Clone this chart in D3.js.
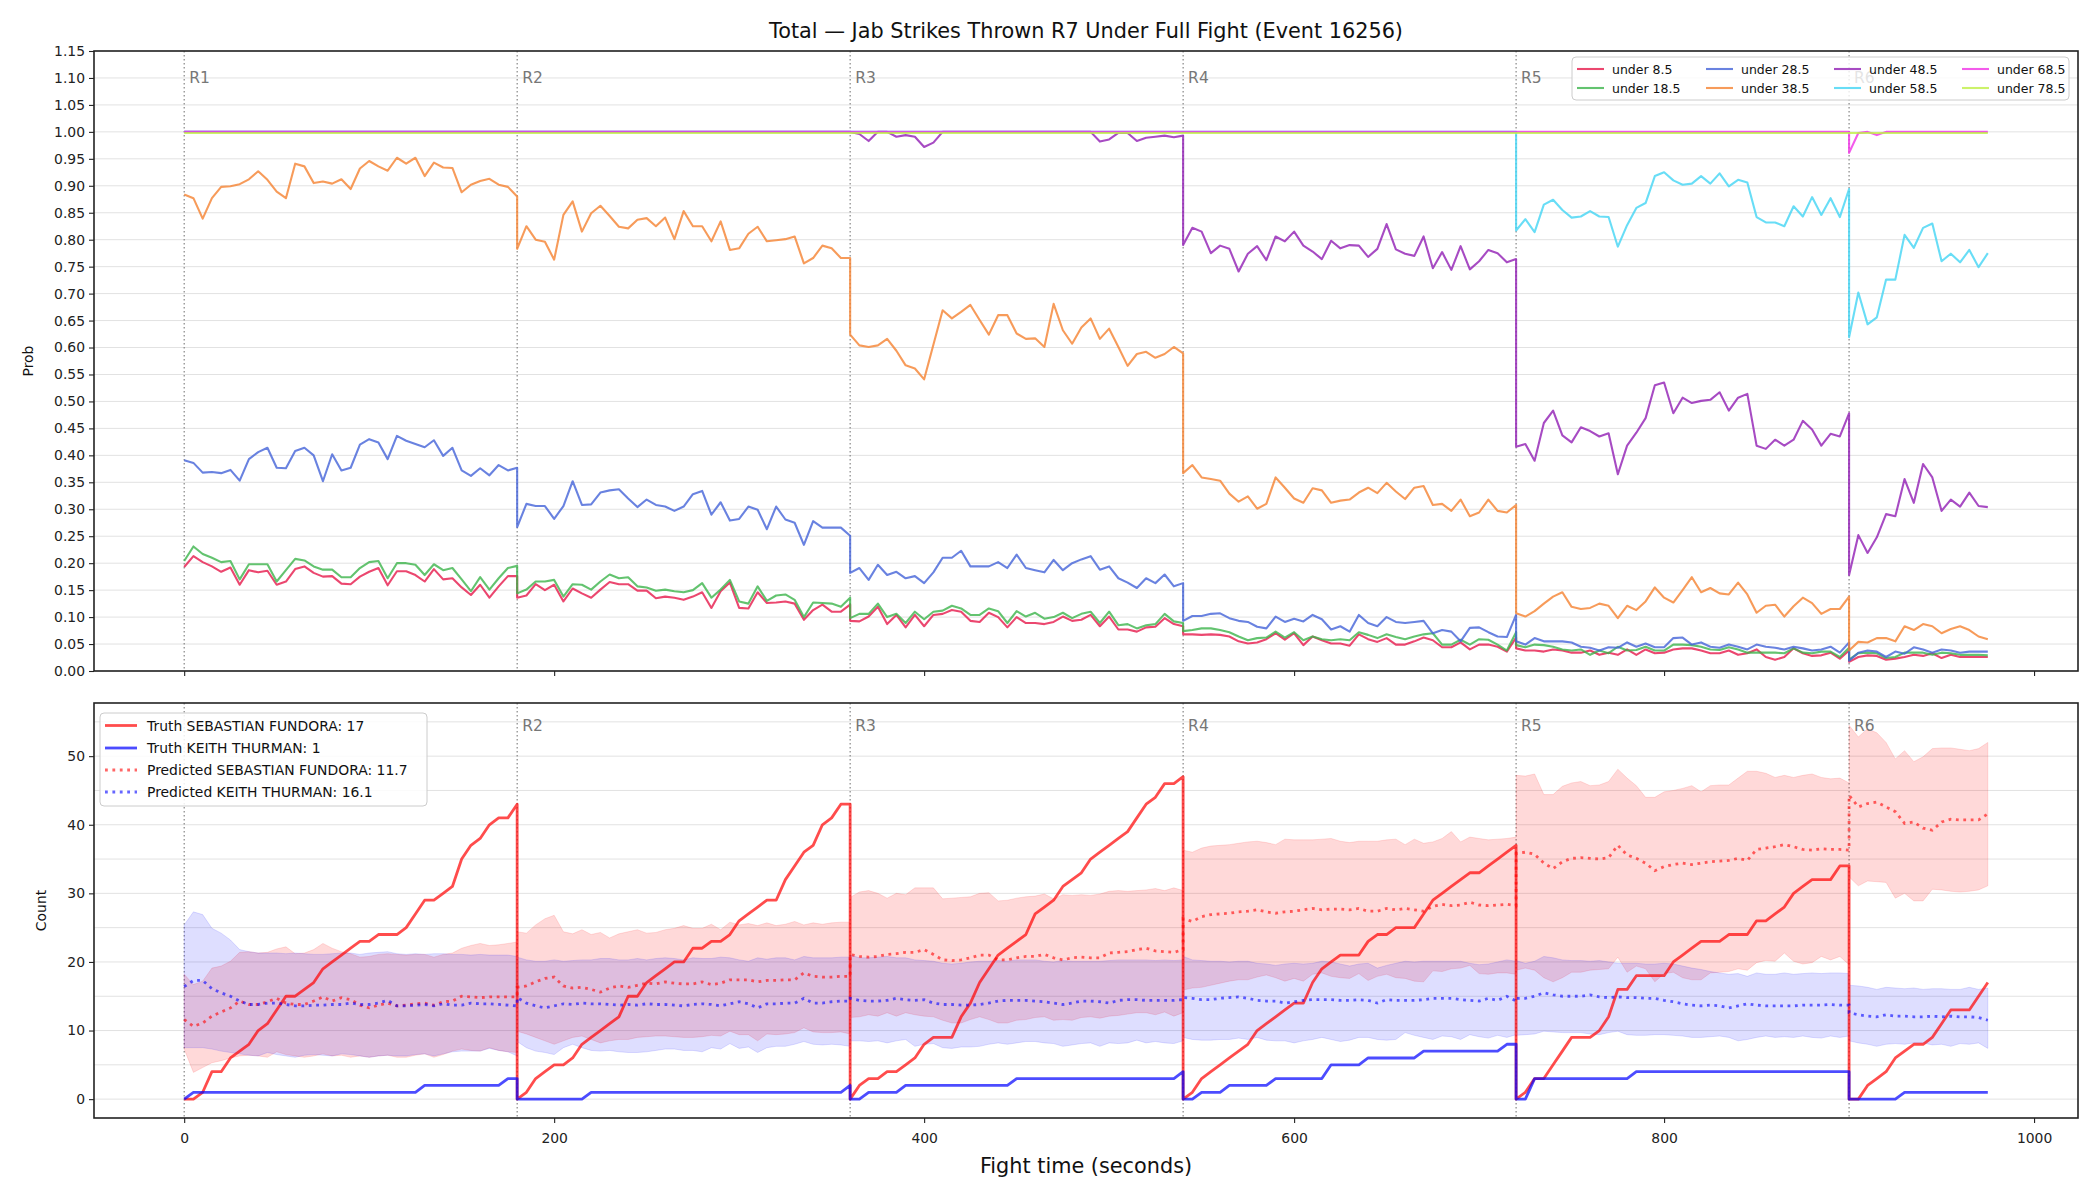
<!DOCTYPE html>
<html>
<head>
<meta charset="utf-8">
<script src="https://cdn.jsdelivr.net/npm/d3@7"></script>
<style>
  body { margin: 0; background: #fff; }
  text { font-family: "DejaVu Sans", sans-serif; }
</style>
</head>
<body>
<div class="svgContainer"></div>
<script>
// rounds and sampling
let roundStarts = [0, 180, 360, 540, 720, 900];
let roundEnds = [180, 360, 540, 720, 900, 975];
let roundLabels = ["R1", "R2", "R3", "R4", "R5", "R6"];
let sampleStep = 5;

let xTicks = [0, 200, 400, 600, 800, 1000];
let probTicks = [0, 0.05, 0.1, 0.15, 0.2, 0.25, 0.3, 0.35, 0.4, 0.45, 0.5, 0.55, 0.6, 0.65, 0.7, 0.75, 0.8, 0.85, 0.9, 0.95, 1, 1.05, 1.1, 1.15];
let countTicks = [0, 10, 20, 30, 40, 50];
let countGrid = [0, 5, 10, 15, 20, 25, 30, 35, 40, 45, 50, 55];

let seriesNames = ["under 8.5", "under 18.5", "under 28.5", "under 38.5", "under 48.5", "under 58.5", "under 68.5", "under 78.5"];

// probability series, one row per round (R1..R5: 0..180 step 5, R6: 0..75)
let under85 = [
  .193,.213,.202,.194,.184,.192,.160,.187,.183,.186,.160,.166,.189,.194,.182,.175,.176,.162,.161,.175,.184,.191,.159,.185,.185,.178,.166,.189,.170,.172,.155,.141,.160,.136,.157,.176,.176,
  .136,.140,.161,.150,.160,.129,.153,.144,.136,.151,.165,.161,.161,.149,.149,.135,.138,.136,.132,.138,.146,.117,.148,.164,.117,.116,.146,.126,.127,.129,.125,.095,.113,.123,.110,.110,.123,
  .093,.092,.101,.119,.087,.104,.081,.104,.083,.104,.106,.113,.110,.093,.091,.108,.100,.081,.100,.089,.089,.087,.091,.101,.093,.095,.104,.083,.101,.077,.077,.073,.081,.082,.098,.087,.083,
  .068,.068,.067,.068,.067,.064,.055,.051,.053,.059,.070,.058,.070,.048,.064,.057,.051,.051,.047,.068,.059,.054,.061,.049,.049,.055,.062,.057,.044,.044,.053,.040,.049,.049,.045,.036,.062,
  .042,.038,.038,.036,.040,.038,.034,.034,.038,.030,.034,.030,.040,.030,.040,.033,.034,.040,.042,.042,.038,.033,.033,.038,.030,.033,.040,.026,.021,.026,.042,.033,.028,.029,.034,.023,.038,
  .017,.026,.029,.028,.021,.023,.026,.030,.028,.033,.024,.030,.026,.026,.026,.026
];
let under185 = [
  .204,.231,.217,.210,.202,.204,.170,.198,.198,.198,.166,.187,.208,.205,.194,.188,.188,.174,.174,.191,.202,.204,.172,.200,.200,.197,.178,.198,.187,.191,.170,.148,.174,.151,.172,.191,.195,
  .144,.151,.166,.166,.169,.138,.161,.160,.151,.166,.179,.172,.174,.157,.155,.149,.151,.148,.146,.150,.163,.136,.151,.169,.129,.125,.157,.130,.140,.142,.132,.100,.127,.126,.125,.119,.136,
  .098,.106,.106,.125,.100,.106,.089,.110,.096,.110,.112,.121,.116,.104,.104,.116,.111,.089,.111,.101,.108,.097,.100,.108,.098,.106,.110,.089,.110,.085,.087,.079,.085,.087,.106,.092,.089,
  .074,.076,.079,.079,.076,.072,.064,.057,.061,.062,.073,.062,.072,.057,.064,.059,.057,.059,.057,.072,.067,.061,.068,.063,.059,.064,.068,.070,.049,.049,.058,.049,.059,.058,.049,.038,.072,
  .048,.044,.049,.048,.045,.040,.038,.040,.030,.038,.033,.045,.038,.039,.045,.038,.038,.049,.049,.048,.045,.040,.039,.044,.040,.034,.034,.034,.034,.033,.042,.034,.033,.036,.036,.026,.043,
  .021,.033,.034,.033,.024,.026,.034,.034,.034,.030,.034,.033,.030,.030,.030,.029
];
let under285 = [
  .391,.386,.368,.369,.367,.373,.353,.393,.406,.414,.377,.376,.408,.414,.400,.352,.402,.372,.377,.420,.430,.424,.393,.436,.427,.421,.415,.428,.399,.414,.372,.362,.376,.363,.382,.372,.377,
  .267,.310,.306,.306,.282,.306,.352,.308,.309,.331,.335,.337,.320,.304,.318,.308,.305,.297,.305,.328,.334,.290,.313,.279,.282,.305,.299,.263,.305,.281,.275,.234,.278,.266,.266,.266,.251,
  .182,.191,.169,.197,.178,.184,.172,.176,.163,.183,.210,.210,.223,.194,.194,.194,.202,.191,.216,.191,.187,.183,.206,.187,.200,.207,.213,.188,.194,.172,.164,.154,.172,.163,.179,.157,.163,
  .093,.102,.102,.106,.107,.098,.093,.091,.082,.079,.101,.091,.097,.092,.104,.096,.077,.083,.073,.104,.089,.083,.100,.091,.089,.091,.093,.070,.076,.073,.055,.080,.081,.072,.064,.063,.104,
  .055,.049,.061,.055,.055,.055,.053,.045,.043,.038,.044,.043,.053,.045,.051,.044,.044,.061,.062,.049,.053,.045,.043,.049,.045,.040,.049,.045,.043,.040,.045,.042,.038,.040,.045,.034,.053,
  .019,.034,.038,.036,.026,.036,.032,.044,.040,.034,.040,.038,.034,.036,.036,.036
];
let under385 = [
  .884,.877,.839,.877,.898,.899,.903,.912,.927,.911,.889,.877,.941,.936,.905,.908,.904,.912,.894,.932,.946,.936,.928,.952,.941,.952,.918,.943,.934,.933,.888,.902,.909,.913,.902,.898,.880,
  .783,.825,.800,.796,.763,.846,.871,.815,.849,.863,.844,.824,.821,.837,.840,.825,.841,.801,.853,.825,.825,.797,.834,.781,.784,.811,.824,.797,.799,.801,.806,.756,.766,.789,.784,.766,.766,
  .624,.604,.601,.604,.616,.594,.567,.561,.541,.605,.669,.654,.666,.679,.651,.624,.660,.660,.626,.616,.617,.601,.681,.632,.607,.637,.654,.616,.635,.601,.566,.588,.592,.581,.588,.601,.589,
  .367,.382,.359,.356,.353,.329,.314,.324,.301,.310,.359,.340,.320,.312,.339,.335,.312,.316,.318,.331,.340,.330,.349,.333,.319,.340,.343,.308,.310,.297,.318,.287,.294,.318,.297,.294,.308,
  .107,.101,.111,.125,.138,.146,.119,.115,.117,.125,.121,.098,.121,.113,.129,.155,.136,.127,.150,.174,.146,.154,.144,.142,.164,.142,.108,.121,.123,.101,.120,.136,.126,.106,.115,.115,.138,
  .038,.054,.053,.061,.061,.055,.083,.076,.087,.083,.070,.078,.083,.076,.064,.059
];
let under485 = [
  1,1,1,1,1,1,1,1,1,1,1,1,1,1,1,1,1,1,1,1,1,1,1,1,1,1,1,1,1,1,1,1,1,1,1,1,1,
  1,1,1,1,1,1,1,1,1,1,1,1,1,1,1,1,1,1,1,1,1,1,1,1,1,1,1,1,1,1,1,1,1,1,1,1,1,
  1,.996,.983,1,1,.991,.994,.991,.972,.980,1,1,1,1,1,1,1,1,1,1,1,1,1,1,1,1,1,.982,.986,.998,.998,.983,.989,.991,.993,.990,.993,
  .790,.822,.815,.775,.789,.783,.741,.774,.788,.762,.806,.797,.815,.789,.778,.764,.798,.784,.790,.789,.768,.783,.829,.782,.774,.770,.806,.747,.777,.744,.788,.745,.760,.781,.775,.758,.764,
  .416,.421,.390,.460,.483,.437,.424,.452,.445,.435,.441,.365,.418,.442,.469,.530,.535,.478,.507,.497,.501,.503,.517,.483,.507,.514,.418,.412,.429,.418,.429,.464,.448,.418,.440,.435,.478,
  .178,.252,.219,.248,.291,.287,.356,.312,.384,.359,.297,.318,.305,.331,.306,.304
];
let under585 = [
  1,1,1,1,1,1,1,1,1,1,1,1,1,1,1,1,1,1,1,1,1,1,1,1,1,1,1,1,1,1,1,1,1,1,1,1,1,
  1,1,1,1,1,1,1,1,1,1,1,1,1,1,1,1,1,1,1,1,1,1,1,1,1,1,1,1,1,1,1,1,1,1,1,1,1,
  1,1,1,1,1,1,1,1,1,1,1,1,1,1,1,1,1,1,1,1,1,1,1,1,1,1,1,1,1,1,1,1,1,1,1,1,1,
  1,1,1,1,1,1,1,1,1,1,1,1,1,1,1,1,1,1,1,1,1,1,1,1,1,1,1,1,1,1,1,1,1,1,1,1,1,
  .817,.838,.814,.865,.874,.855,.841,.843,.853,.843,.842,.787,.827,.859,.868,.918,.925,.910,.902,.904,.918,.904,.923,.899,.911,.906,.842,.832,.832,.825,.862,.843,.879,.846,.877,.842,.894,
  .619,.702,.643,.656,.726,.726,.809,.785,.822,.830,.760,.774,.758,.781,.749,.775
];
let under685 = [
  1,1,1,1,1,1,1,1,1,1,1,1,1,1,1,1,1,1,1,1,1,1,1,1,1,1,1,1,1,1,1,1,1,1,1,1,1,
  1,1,1,1,1,1,1,1,1,1,1,1,1,1,1,1,1,1,1,1,1,1,1,1,1,1,1,1,1,1,1,1,1,1,1,1,1,
  1,1,1,1,1,1,1,1,1,1,1,1,1,1,1,1,1,1,1,1,1,1,1,1,1,1,1,1,1,1,1,1,1,1,1,1,1,
  1,1,1,1,1,1,1,1,1,1,1,1,1,1,1,1,1,1,1,1,1,1,1,1,1,1,1,1,1,1,1,1,1,1,1,1,1,
  1,1,1,1,1,1,1,1,1,1,1,1,1,1,1,1,1,1,1,1,1,1,1,1,1,1,1,1,1,1,1,1,1,1,1,1,1,
  .961,.998,1,.994,1,1,1,1,1,1,1,1,1,1,1,1
];
let under785 = [
  .998,.998,.998,.998,.998,.998,.998,.998,.998,.998,.998,.998,.998,.998,.998,.998,.998,.998,.998,.998,.998,.998,.998,.998,.998,.998,.998,.998,.998,.998,.998,.998,.998,.998,.998,.998,.998,
  .998,.998,.998,.998,.998,.998,.998,.998,.998,.998,.998,.998,.998,.998,.998,.998,.998,.998,.998,.998,.998,.998,.998,.998,.998,.998,.998,.998,.998,.998,.998,.998,.998,.998,.998,.998,.998,
  .998,.998,.998,.998,.998,.998,.998,.998,.998,.998,.998,.998,.998,.998,.998,.998,.998,.998,.998,.998,.998,.998,.998,.998,.998,.998,.998,.998,.998,.998,.998,.998,.998,.998,.998,.998,.998,
  .998,.998,.998,.998,.998,.998,.998,.998,.998,.998,.998,.998,.998,.998,.998,.998,.998,.998,.998,.998,.998,.998,.998,.998,.998,.998,.998,.998,.998,.998,.998,.998,.998,.998,.998,.998,.998,
  .998,.998,.998,.998,.998,.998,.998,.998,.998,.998,.998,.998,.998,.998,.998,.998,.998,.998,.998,.998,.998,.998,.998,.998,.998,.998,.998,.998,.998,.998,.998,.998,.998,.998,.998,.998,.998,
  .998,.998,.998,.998,.998,.998,.998,.998,.998,.998,.998,.998,.998,.998,.998,.998
];

// counts: truth (cumulative per round), predicted mean and band
let truthFundora = [
  0,0,1,4,4,6,7,8,10,11,13,15,15,16,17,19,20,21,22,23,23,24,24,24,25,27,29,29,30,31,35,37,38,40,41,41,43,
  0,1,3,4,5,5,6,8,9,10,11,12,15,15,17,18,19,20,20,22,22,23,23,24,26,27,28,29,29,32,34,36,37,40,41,43,43,
  0,2,3,3,4,4,5,6,8,9,9,9,12,14,17,19,21,22,23,24,27,28,29,31,32,33,35,36,37,38,39,41,43,44,46,46,47,
  0,1,3,4,5,6,7,8,10,11,12,13,14,14,17,19,20,21,21,21,23,24,24,25,25,25,27,29,30,31,32,33,33,34,35,36,37,
  0,1,3,3,5,7,9,9,9,10,12,16,16,18,18,18,18,20,21,22,23,23,23,24,24,24,26,26,27,28,30,31,32,32,32,34,34,
  0,0,2,3,4,6,7,8,8,9,11,13,13,13,15,17
];
let truthThurman = [
  0,1,1,1,1,1,1,1,1,1,1,1,1,1,1,1,1,1,1,1,1,1,1,1,1,1,2,2,2,2,2,2,2,2,2,3,3,
  0,0,0,0,0,0,0,0,1,1,1,1,1,1,1,1,1,1,1,1,1,1,1,1,1,1,1,1,1,1,1,1,1,1,1,1,2,
  0,0,1,1,1,1,2,2,2,2,2,2,2,2,2,2,2,2,3,3,3,3,3,3,3,3,3,3,3,3,3,3,3,3,3,3,4,
  0,0,1,1,1,2,2,2,2,2,3,3,3,3,3,3,5,5,5,5,6,6,6,6,6,6,7,7,7,7,7,7,7,7,7,8,8,
  0,0,3,3,3,3,3,3,3,3,3,3,3,4,4,4,4,4,4,4,4,4,4,4,4,4,4,4,4,4,4,4,4,4,4,4,4,
  0,0,0,0,0,0,1,1,1,1,1,1,1,1,1,1
];
let predFundora = [
  11.6,10.6,11.1,12.1,12.7,13.3,14.3,13.8,13.8,14.2,14.7,14.0,13.8,13.8,14.3,14.9,14.3,14.8,14.5,13.7,13.3,13.7,14.0,13.6,13.7,13.9,14.0,13.7,14.2,14.3,15.0,14.9,14.8,14.9,14.9,14.9,14.9,
  16.3,16.5,17.1,17.6,17.8,16.5,16.2,16.3,16.0,15.6,16.2,16.5,16.3,16.6,16.9,16.8,17.1,16.9,16.8,16.8,17.1,16.7,16.9,17.4,17.4,17.4,17.1,17.3,17.3,17.4,17.4,18.4,17.9,17.8,17.8,17.9,17.9,
  21.1,20.8,20.7,20.8,21.1,21.2,21.4,21.4,21.8,21.1,20.3,20.2,20.3,20.6,21.0,21.0,20.3,20.3,20.6,20.8,20.8,21.1,20.6,20.3,20.6,20.7,20.6,20.6,21.3,21.4,21.5,21.8,22.0,21.6,21.5,21.4,21.8,
  26.3,25.9,26.6,26.9,27.0,27.1,27.3,27.4,27.6,27.3,27.1,27.3,27.4,27.6,27.8,27.6,27.7,27.7,27.6,27.8,27.4,27.4,27.8,27.6,27.8,27.6,27.4,28.1,28.4,28.2,28.3,28.7,28.3,28.2,28.3,28.4,28.2,
  35.8,36.0,35.7,34.4,33.6,34.6,35.1,35.2,35.1,35.0,35.2,37.0,35.6,35.1,34.4,33.3,33.9,34.2,34.4,34.2,34.4,34.6,34.7,34.8,35.1,34.8,36.4,36.6,36.8,37.1,36.8,36.4,36.3,36.5,36.4,36.4,36.3,
  44.3,42.6,43.1,43.3,42.6,41.9,40.2,40.4,39.5,39.2,40.4,40.8,40.7,40.7,40.7,41.6
];
let predThurman = [
  16.4,17.3,17.3,16.1,15.5,15.0,14.3,13.8,13.8,14.0,14.0,13.8,13.6,13.6,13.7,13.7,13.8,13.8,14.0,13.8,13.8,14.0,14.4,13.6,13.6,13.7,13.8,13.6,13.9,13.7,13.7,14.0,13.9,13.9,13.8,13.7,13.6,
  14.8,14.0,13.6,13.3,13.6,13.9,13.8,14.0,13.9,13.9,13.8,13.7,13.8,13.7,13.9,13.8,13.8,13.7,13.6,13.8,13.9,13.8,13.6,13.9,14.2,13.9,13.3,13.9,13.9,14.0,14.0,14.7,14.0,14.0,14.2,14.3,14.3,
  14.7,14.4,14.3,14.3,14.4,14.7,14.5,14.4,14.5,14.0,13.8,13.8,13.7,13.7,13.8,14.0,14.3,14.4,14.4,14.4,14.3,14.2,14.0,13.8,14.0,14.3,14.3,14.2,14.0,14.4,14.5,14.5,14.4,14.4,14.4,14.4,14.5,
  14.8,14.7,14.5,14.5,14.7,14.8,14.9,14.7,14.4,14.3,14.3,14.0,14.2,14.4,14.5,14.5,14.5,14.4,14.4,14.5,14.4,14.0,14.5,14.4,14.4,14.4,14.5,14.7,14.7,14.7,14.5,14.4,14.3,14.7,14.4,15.0,14.3,
  14.7,14.7,15.0,15.5,15.2,15.0,15.0,15.0,15.2,14.9,14.8,14.9,14.8,14.8,14.7,14.7,14.4,14.2,13.9,13.7,13.6,13.7,13.6,13.3,13.6,13.9,13.7,13.6,13.6,13.6,13.6,13.7,13.7,13.7,13.8,13.7,13.7,
  12.6,12.3,12.1,12.0,12.3,12.1,12.1,12.0,12.0,12.1,12.0,12.1,12.0,12.0,11.9,11.5
];
let fundoraHi = [
  18.2,16.7,17.2,19.1,19.4,20.1,21.4,21.5,21.3,21.4,21.9,22.2,21.2,21.3,21.8,22.7,22.0,21.5,21.2,20.7,20.8,21.1,21.2,21.1,21.0,21.1,21.1,20.7,21.1,21.3,22.0,22.4,22.7,22.4,22.5,22.7,22.9,
  24.4,24.2,25.4,26.3,26.8,24.4,24.1,24.7,24.0,24.3,23.5,24.1,24.4,24.7,24.2,24.3,24.7,24.9,25.3,24.9,24.9,25.5,24.7,25.8,25.4,25.6,25.3,25.7,25.3,25.5,25.9,25.4,25.7,25.5,25.7,25.8,25.8,
  29.4,30.2,30.4,30.0,29.3,30.0,29.8,30.8,30.8,30.8,29.2,29.3,29.4,29.5,30.0,30.1,28.9,29.0,29.3,29.5,29.6,29.9,29.2,29.8,29.7,29.8,29.7,29.9,30.3,30.4,30.3,30.4,30.5,30.7,30.4,30.8,30.4,
  36.3,36.0,36.6,36.9,37.0,37.1,37.3,37.5,37.6,37.4,37.1,37.9,37.8,37.8,37.8,37.9,38.0,37.6,37.4,37.6,37.6,37.6,37.8,37.9,37.1,37.9,37.3,37.5,38.0,39.0,37.5,38.2,38.0,37.8,37.9,38.0,38.2,
  47.2,47.1,47.4,44.4,44.4,45.6,46.1,46.3,45.7,45.8,46.3,48.1,46.8,45.7,44.0,44.0,44.8,45.0,45.3,45.7,44.8,45.7,45.8,45.8,46.8,47.8,47.8,47.5,46.9,47.2,46.9,47.2,47.4,46.9,46.7,46.8,46.1,
  54.5,52.8,54.0,53.4,52.0,49.6,50.8,49.2,49.9,51.1,51.2,51.2,51.0,50.8,51.1,52.0
];
let fundoraLo = [
  7.3,3.9,4.6,5.3,5.6,6.0,6.3,6.4,6.3,6.1,6.9,6.5,6.3,6.1,6.3,6.6,6.3,6.4,6.1,6.3,6.1,6.3,6.4,6.1,6.1,6.4,6.6,6.1,6.5,7.0,7.3,7.1,7.0,7.5,7.1,6.9,6.8,
  9.9,9.5,9.0,8.5,8.0,8.5,9.0,9.2,8.7,8.2,8.5,8.7,8.7,9.0,9.1,9.2,9.2,9.1,9.0,9.0,9.1,9.3,9.2,9.9,9.4,9.4,8.5,9.5,9.4,9.5,9.7,10.4,9.8,9.7,9.7,9.8,9.5,
  11.9,12.0,12.3,12.1,12.6,12.1,12.6,12.3,12.1,12.0,11.5,11.1,11.1,11.6,12.0,11.6,11.1,11.1,11.5,11.6,11.9,12.0,11.5,11.6,11.5,11.9,12.0,11.8,12.1,12.2,12.4,12.6,12.6,12.3,12.7,12.1,12.6,
  15.9,16.2,16.3,16.6,16.9,17.2,17.4,17.4,17.8,18.1,17.7,17.2,17.6,17.2,18.2,18.4,17.9,17.7,17.6,18.3,17.3,17.9,18.2,17.7,17.6,17.2,17.1,18.7,18.6,19.0,19.1,19.5,18.3,18.2,18.4,18.4,18.2,
  18.8,19.1,18.8,17.7,17.1,17.7,18.5,18.5,18.8,18.9,19.0,20.7,18.5,19.4,19.0,17.1,18.3,18.5,17.7,17.4,17.4,18.4,18.5,18.6,19.0,18.8,19.9,20.2,20.1,21.3,20.1,19.7,19.9,20.8,20.3,20.8,19.6,
  32.4,31.1,31.8,31.7,31.6,29.3,30.0,28.9,28.9,30.6,30.5,30.3,30.2,30.3,30.5,31.1
];
let thurmanHi = [
  25.4,27.3,26.9,24.9,24.2,23.2,21.8,21.5,21.3,21.3,21.3,21.2,21.3,21.2,21.1,21.1,21.2,21.3,21.3,21.1,21.3,21.4,21.5,21.2,21.1,21.2,21.1,21.2,21.2,21.1,21.1,21.0,21.1,21.0,21.0,21.0,20.8,
  20.7,20.3,20.1,20.1,20.3,20.1,20.2,20.3,20.3,20.5,20.5,20.3,20.3,20.5,20.3,20.5,20.6,20.5,20.3,20.6,20.5,20.5,20.7,20.6,20.3,20.1,20.6,20.4,20.6,20.6,20.3,20.8,20.6,20.6,20.6,20.7,20.7,
  21.0,20.6,20.6,20.7,20.8,20.6,20.6,20.3,20.2,20.1,19.8,19.7,19.8,20.0,20.1,20.1,20.2,20.1,20.3,20.3,20.3,20.1,20.0,20.2,20.1,20.1,20.1,20.1,20.2,20.3,20.3,20.3,20.3,20.2,20.3,20.2,20.3,
  20.8,20.3,20.2,20.1,20.1,20.0,20.1,20.1,19.8,19.7,19.5,19.7,19.8,19.7,19.8,20.1,20.0,19.7,19.4,19.7,19.8,19.1,19.5,19.8,20.1,20.0,20.1,20.1,20.1,20.1,20.1,19.8,19.6,19.7,20.0,20.3,20.1,
  20.2,19.8,20.1,20.8,20.6,20.3,20.2,20.2,20.1,20.2,20.0,19.8,19.8,19.8,19.7,19.7,19.8,19.7,19.4,19.1,18.9,18.6,18.4,18.2,18.3,17.9,18.4,18.2,18.2,18.4,18.2,18.3,18.4,18.3,18.4,18.4,18.3,
  16.6,16.5,16.3,16.0,16.3,16.2,16.1,16.2,16.0,16.1,16.1,16.0,16.0,16.3,16.0,16.2
];
let thurmanLo = [
  7.5,7.5,7.5,7.3,7.0,6.8,6.6,6.4,6.3,6.8,6.5,6.3,6.1,6.4,6.5,6.4,6.3,6.6,6.5,6.3,6.1,6.3,6.4,6.3,6.3,6.5,6.6,6.3,6.6,6.9,7.0,7.0,7.0,7.4,7.1,6.9,6.3,
  8.4,7.5,7.0,6.8,6.5,7.5,8.0,7.5,7.1,7.0,7.1,6.9,6.8,6.8,6.9,7.1,7.3,7.3,7.1,7.1,6.9,7.5,7.3,8.1,7.4,7.6,6.8,7.5,7.7,7.7,8.0,8.4,8.0,7.9,8.0,7.9,7.7,
  8.5,8.5,8.4,8.5,8.2,8.5,8.7,7.7,8.0,8.1,7.5,7.4,7.6,7.6,7.7,8.0,8.2,8.0,8.2,8.4,8.4,8.2,8.1,7.7,7.9,8.1,8.2,7.7,8.2,8.1,8.2,8.6,8.2,8.4,8.2,8.1,8.5,
  9.0,8.7,8.6,8.6,8.7,8.7,8.9,8.7,9.0,8.6,8.5,8.5,8.2,8.5,8.7,9.0,8.7,8.4,8.6,9.0,9.0,8.7,8.6,8.7,9.7,9.3,9.0,8.7,9.2,9.1,8.7,9.4,9.1,8.9,9.3,9.0,9.4,
  9.3,9.4,9.5,9.9,9.8,9.7,9.7,9.7,9.5,9.4,9.7,9.9,9.4,9.3,9.3,9.4,9.4,9.3,9.2,9.0,9.0,9.1,9.2,9.0,8.5,8.7,9.0,9.2,9.0,9.1,9.0,9.2,9.0,8.9,9.2,9.0,9.2,
  8.5,8.2,8.0,7.7,8.0,8.1,8.0,8.2,8.2,7.9,8.0,7.7,8.1,8.0,8.2,7.4
];

let legendTexts = ["Truth SEBASTIAN FUNDORA: 17", "Truth KEITH THURMAN: 1", "Predicted SEBASTIAN FUNDORA: 11.7", "Predicted KEITH THURMAN: 16.1"];

// sample times, each round keeps its own start and end sample
let times = [];
roundStarts.forEach((s, i) => {
  for (let t = s; t <= roundEnds[i]; t += sampleStep) times.push(t);
});

let width = 2100,
  height = 1200,
  left = 94,
  right = 2078,
  topY = [51, 671],
  botY = [703, 1118];

let probSeries = [under85, under185, under285, under385, under485, under585, under685, under785];
let probColors = ["#e6194b", "#3cb44b", "#4363d8", "#f58231", "#911eb4", "#42d4f4", "#f032e6", "#bfef45"];

let svg = d3
  .select(".svgContainer")
  .append("svg")
  .attr("width", width)
  .attr("height", height)
  .style("background", "#fff");

let xScale = d3.scaleLinear().domain([-48.75, 1023.75]).range([left, right]);
let yProb = d3.scaleLinear().domain([0, 1.15]).range([topY[1], topY[0]]);
let yCount = d3.scaleLinear().domain([-2.75, 57.75]).range([botY[1], botY[0]]);

let defs = svg.append("defs");
defs.append("clipPath").attr("id", "clipTop")
  .append("rect").attr("x", left).attr("y", topY[0]).attr("width", right - left).attr("height", topY[1] - topY[0]);
defs.append("clipPath").attr("id", "clipBot")
  .append("rect").attr("x", left).attr("y", botY[0]).attr("width", right - left).attr("height", botY[1] - botY[0]);

// title
svg.append("text")
  .attr("x", (left + right) / 2)
  .attr("y", 31)
  .attr("text-anchor", "middle")
  .attr("dominant-baseline", "central")
  .style("font-size", "20.8px")
  .style("fill", "#111")
  .text("Total \u2014 Jab Strikes Thrown R7 Under Full Fight (Event 16256)");

// grid lines
svg.append("g").selectAll("line").data(probTicks).enter().append("line")
  .attr("x1", left).attr("x2", right)
  .attr("y1", d => yProb(d)).attr("y2", d => yProb(d))
  .style("stroke", "#e2e2e2").style("stroke-width", 1);
svg.append("g").selectAll("line").data(countGrid).enter().append("line")
  .attr("x1", left).attr("x2", right)
  .attr("y1", d => yCount(d)).attr("y2", d => yCount(d))
  .style("stroke", "#e2e2e2").style("stroke-width", 1);

// round separators
[topY, botY].forEach(range => {
  svg.append("g").selectAll("line").data(roundStarts).enter().append("line")
    .attr("x1", d => xScale(d)).attr("x2", d => xScale(d))
    .attr("y1", range[0]).attr("y2", range[1])
    .style("stroke", "#7a7a7a").style("stroke-width", 1.1)
    .style("stroke-dasharray", "1.5,2.5");
});

// top panel: probability lines
let probLine = d3.line()
  .x((d, i) => xScale(times[i]))
  .y(d => yProb(d));

let topLines = svg.append("g").attr("clip-path", "url(#clipTop)");
probSeries.forEach((vals, k) => {
  topLines.append("path")
    .attr("d", probLine(vals))
    .style("fill", "none")
    .style("stroke", probColors[k])
    .style("stroke-width", 2.1)
    .style("stroke-opacity", 0.8)
    .style("stroke-linejoin", "round");
});

// bottom panel: bands, truth, predicted
let bandArea = (lo, hi) => d3.area()
  .x((d, i) => xScale(times[i]))
  .y0((d, i) => yCount(lo[i]))
  .y1((d, i) => yCount(hi[i]))(lo);

let countLine = d3.line()
  .x((d, i) => xScale(times[i]))
  .y(d => yCount(d));

let botMarks = svg.append("g").attr("clip-path", "url(#clipBot)");
botMarks.append("path")
  .attr("d", bandArea(fundoraLo, fundoraHi))
  .style("fill", "rgba(255,0,0,0.15)")
  .style("stroke", "rgba(255,0,0,0.12)")
  .style("stroke-width", 1);
botMarks.append("path")
  .attr("d", bandArea(thurmanLo, thurmanHi))
  .style("fill", "rgba(0,0,255,0.13)")
  .style("stroke", "rgba(0,0,255,0.12)")
  .style("stroke-width", 1);

botMarks.append("path")
  .attr("d", countLine(truthFundora))
  .style("fill", "none").style("stroke", "#ff0000").style("stroke-opacity", 0.7)
  .style("stroke-width", 2.8).style("stroke-linejoin", "round");
botMarks.append("path")
  .attr("d", countLine(truthThurman))
  .style("fill", "none").style("stroke", "#0000ff").style("stroke-opacity", 0.7)
  .style("stroke-width", 2.8).style("stroke-linejoin", "round");
botMarks.append("path")
  .attr("d", countLine(predFundora))
  .style("fill", "none").style("stroke", "#ff0000").style("stroke-opacity", 0.6)
  .style("stroke-width", 2.8).style("stroke-dasharray", "2.8,4.6");
botMarks.append("path")
  .attr("d", countLine(predThurman))
  .style("fill", "none").style("stroke", "#0000ff").style("stroke-opacity", 0.6)
  .style("stroke-width", 2.8).style("stroke-dasharray", "2.8,4.6");

// round labels (bottom R1 sits under the legend, so it is left out there)
svg.append("g").selectAll("text").data(roundStarts).enter().append("text")
  .attr("x", d => xScale(d) + 5)
  .attr("y", yProb(1.1))
  .attr("dominant-baseline", "central")
  .style("font-size", "15.5px").style("fill", "#777")
  .text((d, i) => roundLabels[i]);
svg.append("g").selectAll("text").data(roundStarts.slice(1)).enter().append("text")
  .attr("x", d => xScale(d) + 5)
  .attr("y", yCount(54.4))
  .attr("dominant-baseline", "central")
  .style("font-size", "15.5px").style("fill", "#777")
  .text((d, i) => roundLabels[i + 1]);

// axes
function styleAxis(g) {
  g.select(".domain").remove();
  g.selectAll(".tick line").style("stroke", "#222").style("stroke-width", 1.1);
  g.selectAll(".tick text")
    .style("font-size", "13.9px")
    .style("font-family", "DejaVu Sans")
    .style("fill", "#222");
}

svg.append("g")
  .attr("transform", "translate(" + left + ",0)")
  .call(d3.axisLeft(yProb).tickValues(probTicks).tickFormat(d3.format(".2f")).tickSize(5).tickPadding(4))
  .call(styleAxis);
svg.append("g")
  .attr("transform", "translate(0," + topY[1] + ")")
  .call(d3.axisBottom(xScale).tickValues(xTicks).tickFormat("").tickSize(5))
  .call(styleAxis);
svg.append("g")
  .attr("transform", "translate(" + left + ",0)")
  .call(d3.axisLeft(yCount).tickValues(countTicks).tickFormat(d3.format("d")).tickSize(5).tickPadding(4))
  .call(styleAxis);
svg.append("g")
  .attr("transform", "translate(0," + botY[1] + ")")
  .call(d3.axisBottom(xScale).tickValues(xTicks).tickFormat(d3.format("d")).tickSize(5).tickPadding(10))
  .call(styleAxis);

// frames
[topY, botY].forEach(range => {
  svg.append("rect")
    .attr("x", left).attr("y", range[0])
    .attr("width", right - left).attr("height", range[1] - range[0])
    .style("fill", "none").style("stroke", "#222").style("stroke-width", 1.6);
});

// axis labels
svg.append("text")
  .attr("transform", "translate(28," + (topY[0] + topY[1]) / 2 + ") rotate(-90)")
  .attr("text-anchor", "middle").attr("dominant-baseline", "central")
  .style("font-size", "13.9px").style("fill", "#111")
  .text("Prob");
svg.append("text")
  .attr("transform", "translate(41," + (botY[0] + botY[1]) / 2 + ") rotate(-90)")
  .attr("text-anchor", "middle").attr("dominant-baseline", "central")
  .style("font-size", "13.9px").style("fill", "#111")
  .text("Count");
svg.append("text")
  .attr("x", (left + right) / 2)
  .attr("y", 1166)
  .attr("text-anchor", "middle").attr("dominant-baseline", "central")
  .style("font-size", "20.8px").style("fill", "#111")
  .text("Fight time (seconds)");

// top legend, 4 columns x 2 rows
let topLegend = svg.append("g");
topLegend.append("rect")
  .attr("x", 1572).attr("y", 57).attr("width", 497).attr("height", 43).attr("rx", 4)
  .style("fill", "rgba(255,255,255,0.8)").style("stroke", "#cccccc").style("stroke-width", 1);
let colX = [1577, 1706, 1834, 1962];
let rowY = [69, 88];
seriesNames.forEach((name, i) => {
  let cx = colX[Math.floor(i / 2)], cy = rowY[i % 2];
  topLegend.append("line")
    .attr("x1", cx).attr("x2", cx + 27).attr("y1", cy).attr("y2", cy)
    .style("stroke", probColors[i]).style("stroke-opacity", 0.8).style("stroke-width", 2.1);
  topLegend.append("text")
    .attr("x", cx + 35).attr("y", cy)
    .attr("dominant-baseline", "central")
    .style("font-size", "12.5px").style("fill", "#111")
    .text(name);
});

// bottom legend
let botLegend = svg.append("g");
botLegend.append("rect")
  .attr("x", 100).attr("y", 713).attr("width", 327).attr("height", 93).attr("rx", 4)
  .style("fill", "rgba(255,255,255,0.85)").style("stroke", "#cccccc").style("stroke-width", 1);
let legendStyles = [
  { color: "#ff0000", op: 0.7, dash: null },
  { color: "#0000ff", op: 0.7, dash: null },
  { color: "#ff0000", op: 0.6, dash: "2.8,4.6" },
  { color: "#0000ff", op: 0.6, dash: "2.8,4.6" }
];
let legRows = [725.5, 748, 770, 792];
legendTexts.forEach((txt, i) => {
  let ln = botLegend.append("line")
    .attr("x1", 105).attr("x2", 137).attr("y1", legRows[i]).attr("y2", legRows[i])
    .style("stroke", legendStyles[i].color)
    .style("stroke-opacity", legendStyles[i].op)
    .style("stroke-width", 2.8);
  if (legendStyles[i].dash) ln.style("stroke-dasharray", legendStyles[i].dash);
  botLegend.append("text")
    .attr("x", 147).attr("y", legRows[i])
    .attr("dominant-baseline", "central")
    .style("font-size", "13.9px").style("fill", "#111")
    .text(txt);
});

// sanity check on series lengths
let allSeries = { under85, under185, under285, under385, under485, under585, under685, under785,
  truthFundora, truthThurman, predFundora, predThurman, fundoraHi, fundoraLo, thurmanHi, thurmanLo };
let bad = Object.keys(allSeries).filter(k => allSeries[k].length !== times.length)
  .map(k => k + ":" + allSeries[k].length);
if (bad.length) throw new Error("length mismatch (" + times.length + "): " + bad.join(", "));
</script>
</body>
</html>
